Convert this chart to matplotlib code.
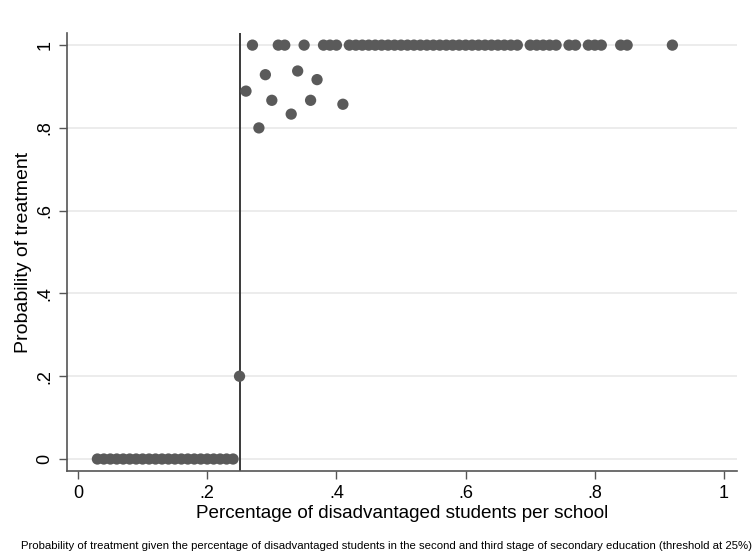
import numpy as np
import matplotlib.pyplot as plt

plt.rcParams['font.family'] = ['Liberation Sans', 'DejaVu Sans']

# Share of disadvantaged students per school and probability of treatment
x_zero = [0.03, 0.04, 0.05, 0.06, 0.07, 0.08, 0.09, 0.10, 0.11, 0.12, 0.13,
          0.14, 0.15, 0.16, 0.17, 0.18, 0.19, 0.20, 0.21, 0.22, 0.23, 0.24]
x_mid = [0.25, 0.26, 0.28, 0.29, 0.30, 0.33, 0.34, 0.36, 0.37, 0.41]
p_mid = [0.2, 8/9, 0.8, 13/14, 13/15, 5/6, 15/16, 13/15, 11/12, 6/7]
x_one = [0.27, 0.31, 0.32, 0.35, 0.38, 0.39, 0.40,
         0.42, 0.43, 0.44, 0.45, 0.46, 0.47, 0.48, 0.49, 0.50, 0.51, 0.52,
         0.53, 0.54, 0.55, 0.56, 0.57, 0.58, 0.59, 0.60, 0.61, 0.62, 0.63,
         0.64, 0.65, 0.66, 0.67, 0.68, 0.70, 0.71, 0.72, 0.73, 0.74,
         0.76, 0.77, 0.79, 0.80, 0.81, 0.84, 0.85, 0.92]

threshold = 0.25

xs = np.array(x_zero + x_mid + x_one)
ps = np.array([0.0] * len(x_zero) + p_mid + [1.0] * len(x_one))

fig = plt.figure(figsize=(7.54, 5.52), dpi=100)
ax = fig.add_axes([0.0889, 0.1467, 0.8886, 0.7933])

ax.set_xlim(-0.017, 1.0201)
ax.set_ylim(-0.029, 1.029)

yticks = [0, 0.2, 0.4, 0.6, 0.8, 1]
for yv in yticks:
    ax.axhline(yv, color='#eaeaea', lw=1.3, zorder=0)

ax.scatter(xs, ps, s=66, color='#5a5a5a', edgecolors='none', zorder=3)
ax.axvline(threshold, color='#3a3a3a', lw=1.4, zorder=2)

for side in ['top', 'right']:
    ax.spines[side].set_visible(False)
for side in ['left', 'bottom']:
    ax.spines[side].set_color('#555555')
    ax.spines[side].set_linewidth(1.2)

ax.set_xticks([0, 0.2, 0.4, 0.6, 0.8, 1])
ax.set_xticklabels(['0', '.2', '.4', '.6', '.8', '1'])
ax.set_yticks(yticks)
ax.set_yticklabels(['0', '.2', '.4', '.6', '.8', '1'], rotation=90, va='center')
ax.tick_params(axis='both', length=6, width=1, color='#555555', labelsize=13, pad=4)

ax.set_xlabel('Percentage of disadvantaged students per school', fontsize=13.6, labelpad=2)
ax.set_ylabel('Probability of treatment', fontsize=14, labelpad=3)

fig.text(0.028, 0.002,
         'Probability of treatment given the percentage of disadvantaged students in the second '
         'and third stage of secondary education (threshold at 25%)',
         fontsize=8.2, ha='left', va='bottom')

fig.savefig('out.png', dpi=100, facecolor='white')
